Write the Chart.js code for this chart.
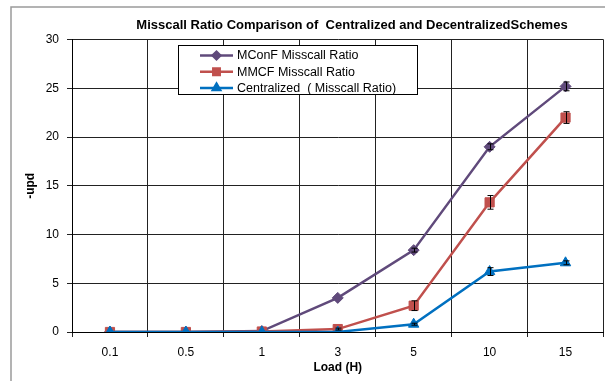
<!DOCTYPE html>
<html>
<head>
<meta charset="utf-8">
<script src="https://cdn.jsdelivr.net/npm/chart.js@4/dist/chart.umd.min.js"></script>
<style>
  html, body { margin: 0; padding: 0; background: #fff; }
  #wrap { width: 605px; height: 381px; position: relative; }
</style>
</head>
<body>
<div id="wrap"><canvas id="c" width="605" height="381"></canvas></div>
<script>
// Load values on the category axis
const loads = ['0.1', '0.5', '1', '3', '5', '10', '15'];

// Misscall ratio per scheme
const mconf   = [0, 0, 0.1, 3.5, 8.4, 19.0, 25.2];
const mmcf    = [0, 0, 0.05, 0.3, 2.7, 13.3, 22.0];
const central = [0, 0, 0, 0, 0.8, 6.2, 7.1];

// Error-bar half widths per point
const mconfErr   = [0, 0, 0, 0, 0.2, 0.3, 0.45];
const mmcfErr    = [0, 0, 0, 0.1, 0.5, 0.7, 0.6];
const centralErr = [0, 0, 0, 0, 0.1, 0.4, 0.2];

// Y axis ticks
const yTicks = [0, 5, 10, 15, 20, 25, 30];

const FONT = '"Liberation Sans", Arial, sans-serif';
const chartTitle = 'Misscall Ratio Comparison of  Centralized and DecentralizedSchemes';

const errors = [mconfErr, mmcfErr, centralErr];

// White page with a grey frame on the left and top
const framePlugin = {
  id: 'frame',
  beforeDraw(chart) {
    const ctx = chart.ctx;
    ctx.save();
    ctx.fillStyle = '#fff';
    ctx.fillRect(0, 0, chart.width, chart.height);
    ctx.strokeStyle = '#9a9a9a';
    ctx.lineWidth = 1.5;
    ctx.beginPath();
    ctx.moveTo(11, chart.height);
    ctx.lineTo(11, 7);
    ctx.lineTo(chart.width, 7);
    ctx.stroke();
    ctx.restore();
  }
};

// Chart heading
const headingPlugin = {
  id: 'heading',
  afterDraw(chart) {
    const ctx = chart.ctx;
    ctx.save();
    ctx.font = 'bold 13px ' + FONT;
    ctx.fillStyle = '#000';
    ctx.textAlign = 'center';
    ctx.textBaseline = 'middle';
    ctx.fillText(chartTitle, 352, 25);
    ctx.restore();
  }
};

// Vertical error bars with small caps
const errorBarPlugin = {
  id: 'errorBars',
  afterDatasetsDraw(chart) {
    const ctx = chart.ctx;
    const yScale = chart.scales.y;
    ctx.save();
    ctx.strokeStyle = '#000';
    ctx.lineWidth = 1;
    chart.data.datasets.forEach((ds, i) => {
      const meta = chart.getDatasetMeta(i);
      const err = errors[i];
      meta.data.forEach((pt, j) => {
        const e = err[j];
        if (!e) return;
        const v = ds.data[j];
        const x = Math.round(pt.x) + 0.5;
        const yt = yScale.getPixelForValue(v + e);
        const yb = yScale.getPixelForValue(Math.max(0, v - e));
        ctx.beginPath();
        ctx.moveTo(x, yt); ctx.lineTo(x, yb);
        ctx.moveTo(x - 3, yt); ctx.lineTo(x + 3, yt);
        ctx.moveTo(x - 3, yb); ctx.lineTo(x + 3, yb);
        ctx.stroke();
      });
    });
    ctx.restore();
  }
};

// Boxed legend inside the plot area
const boxLegendPlugin = {
  id: 'boxLegend',
  afterDatasetsDraw(chart) {
    const ctx = chart.ctx;
    const bx = 178.5, by = 45.5, bw = 239, bh = 49;
    ctx.save();
    ctx.fillStyle = '#fff';
    ctx.fillRect(bx, by, bw, bh);
    ctx.strokeStyle = '#000';
    ctx.lineWidth = 1;
    ctx.strokeRect(bx, by, bw, bh);
    chart.data.datasets.forEach((ds, i) => {
      const y = 55.5 + i * 16.2;
      ctx.strokeStyle = ds.borderColor;
      ctx.lineWidth = 2.5;
      ctx.beginPath();
      ctx.moveTo(200, y); ctx.lineTo(233, y);
      ctx.stroke();
      ctx.fillStyle = ds.backgroundColor;
      ctx.strokeStyle = ds.borderColor;
      Chart.helpers.drawPoint(ctx, {
        pointStyle: ds.pointStyle,
        radius: ds.pointRadius * 0.7,
        borderWidth: 1,
        rotation: 0
      }, 216.5, y);
      ctx.fillStyle = '#000';
      ctx.font = '12.5px ' + FONT;
      ctx.textAlign = 'left';
      ctx.textBaseline = 'middle';
      ctx.fillText(ds.label, 237, y + 0.5);
    });
    ctx.restore();
  }
};

const gridColor = '#222';

new Chart(document.getElementById('c'), {
  type: 'line',
  data: {
    labels: loads,
    datasets: [
      {
        label: 'MConF Misscall Ratio',
        data: mconf,
        borderColor: '#604A7B',
        backgroundColor: '#604A7B',
        pointStyle: 'rectRot',
        pointRadius: 5.5,
        borderWidth: 2.5,
        pointBorderWidth: 1,
        order: 2
      },
      {
        label: 'MMCF Misscall Ratio',
        data: mmcf,
        borderColor: '#C0504D',
        backgroundColor: '#C0504D',
        pointStyle: 'rect',
        pointRadius: 6.5,
        borderWidth: 2.5,
        pointBorderWidth: 1,
        order: 1
      },
      {
        label: 'Centralized  ( Misscall Ratio)',
        data: central,
        borderColor: '#0070C0',
        backgroundColor: '#0070C0',
        pointStyle: 'triangle',
        pointRadius: 6,
        borderWidth: 2.5,
        pointBorderWidth: 1,
        order: 0
      }
    ]
  },
  options: {
    responsive: false,
    animation: false,
    devicePixelRatio: 1,
    layout: { autoPadding: false, padding: { top: 39.6, right: 1.5, left: 0, bottom: 0 } },
    plugins: {
      legend: { display: false },
      title: { display: false },
      tooltip: { enabled: false }
    },
    elements: { line: { tension: 0 } },
    scales: {
      x: {
        offset: true,
        afterFit(s) { s.height = 49; s.paddingLeft = 0; s.paddingRight = 0; },
        grid: {
          offset: true,
          color: (c) => (c.index === loads.length ? '#bdbdbd' : gridColor),
          lineWidth: 1,
          tickLength: 5,
          drawTicks: true
        },
        border: { color: '#000', width: 1 },
        ticks: { color: '#000', font: { family: FONT, size: 12 }, padding: 8, maxRotation: 0 },
        title: {
          display: true,
          text: 'Load (H)',
          color: '#000',
          font: { family: FONT, size: 12, weight: 'bold' },
          padding: { top: 0, bottom: 6 }
        }
      },
      y: {
        min: 0,
        max: 30,
        afterFit(s) { s.width = 72; },
        afterBuildTicks(s) { s.ticks = yTicks.map(v => ({ value: v })); },
        grid: { color: gridColor, lineWidth: 1, tickLength: 5 },
        border: { color: '#000', width: 1 },
        ticks: { color: '#000', font: { family: FONT, size: 12 }, padding: 8 },
        title: {
          display: true,
          text: '-upd',
          color: '#000',
          font: { family: FONT, size: 12, weight: 'bold' },
          padding: { top: 23, bottom: 0 }
        }
      }
    }
  },
  plugins: [framePlugin, errorBarPlugin, boxLegendPlugin, headingPlugin]
});
</script>
</body>
</html>
